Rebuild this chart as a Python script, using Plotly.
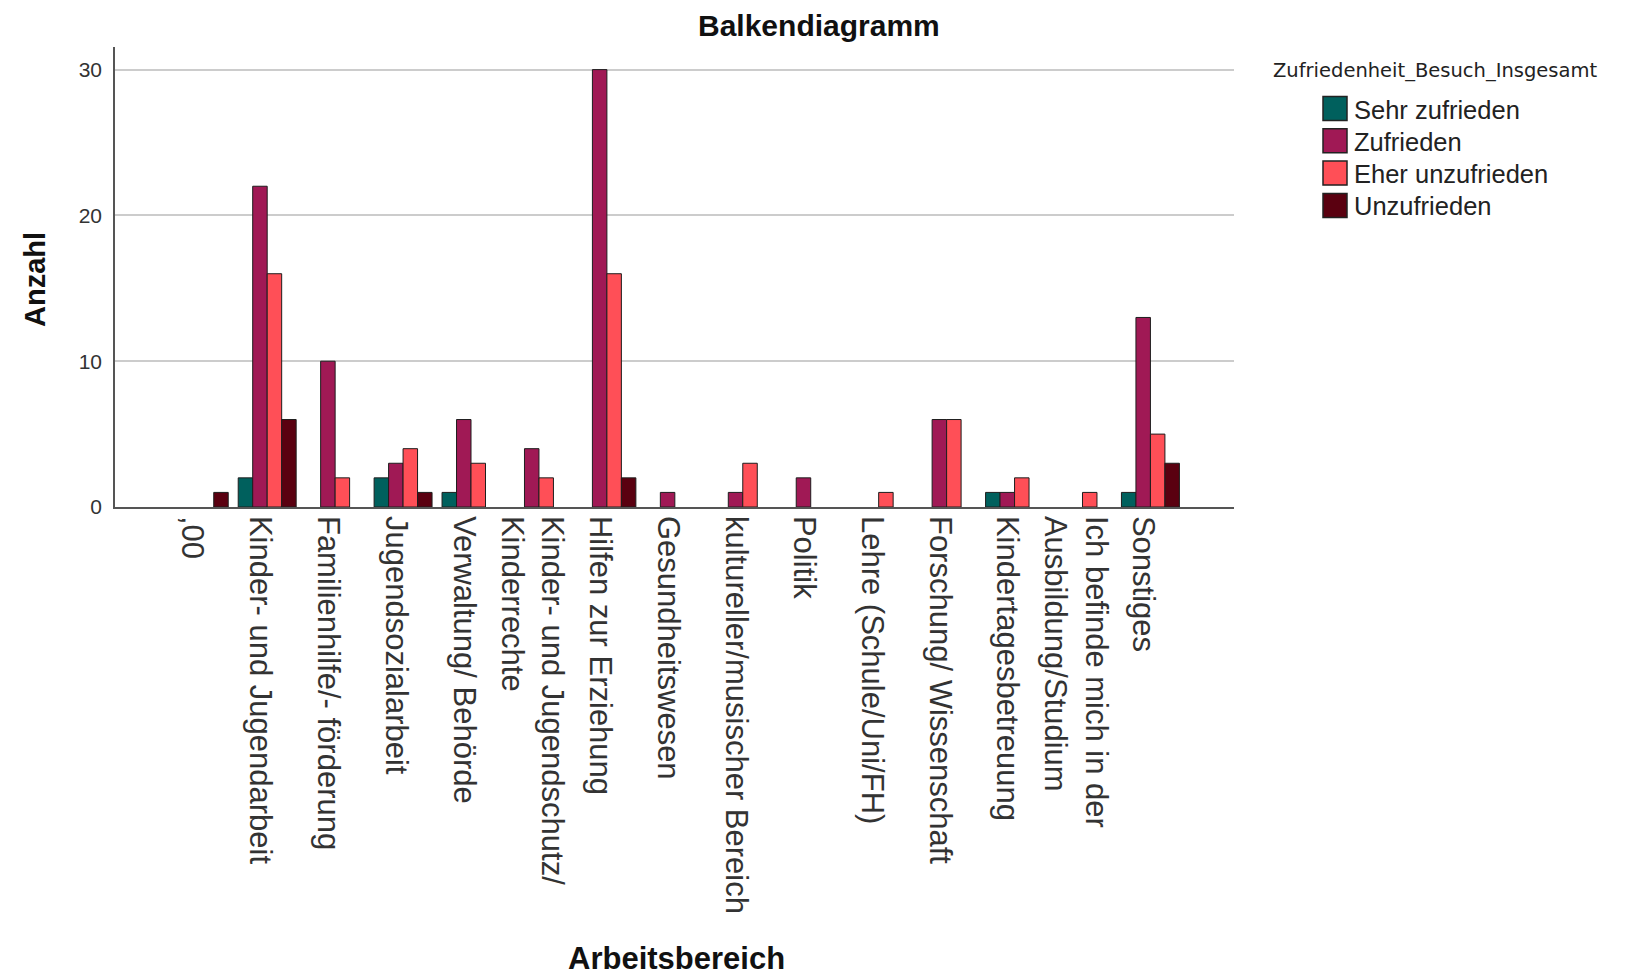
import plotly.graph_objects as go

# Arbeitsbereich categories (x axis)
kategorien = [
    ",00",
    "Kinder- und Jugendarbeit",
    "Familienhilfe/- förderung",
    "Jugendsozialarbeit",
    "Verwaltung/ Behörde",
    "Kinder- und Jugendschutz/<br>Kinderrechte",
    "Hilfen zur Erziehung",
    "Gesundheitswesen",
    "kultureller/musischer Bereich",
    "Politik",
    "Lehre (Schule/Uni/FH)",
    "Forschung/ Wissenschaft",
    "Kindertagesbetreuung",
    "Ich befinde mich in der<br>Ausbildung/Studium",
    "Sonstiges",
]

# counts per Zufriedenheit_Besuch_Insgesamt group (0 = no bar)
sehr_zufrieden   = [0, 2, 0, 2, 1, 0, 0, 0, 0, 0, 0, 0, 1, 0, 1]
zufrieden        = [0, 22, 10, 3, 6, 4, 30, 1, 1, 2, 0, 6, 1, 0, 13]
eher_unzufrieden = [0, 16, 2, 4, 3, 2, 16, 0, 3, 0, 1, 6, 2, 1, 5]
unzufrieden      = [1, 6, 0, 1, 0, 0, 2, 0, 0, 0, 0, 0, 0, 0, 3]

gruppen = ["Sehr zufrieden", "Zufrieden", "Eher unzufrieden", "Unzufrieden"]
werte = [sehr_zufrieden, zufrieden, eher_unzufrieden, unzufrieden]
farben = ["#00605D", "#A01955", "#FF4F57", "#5A0010"]

# page is 1625x975, the html body adds an 8px margin
OFF = 8
W, H = 1625 - OFF, 975 - OFF
# plot area in page pixels: x 115..1234, y 47..507
L, R, T, B = 115 - OFF, 1625 - 1234, 47 - OFF, 975 - 507
pw, ph = W - L - R, H - T - B


def px(x):
    return (x - OFF - L) / pw


def py(y):
    return (H - B - (y - OFF)) / ph


fig = go.Figure()
for name, vals, col in zip(gruppen, werte, farben):
    fig.add_trace(go.Bar(
        x=kategorien,
        y=[v if v else None for v in vals],
        name=name,
        marker=dict(color=col, line=dict(color="#1e1e1e", width=1)),
        showlegend=False,
    ))

annotations = [
    dict(text="<b>Balkendiagramm</b>", x=px(819), y=py(25), xref="paper", yref="paper",
         showarrow=False, xanchor="center", yanchor="middle", borderpad=0,
         font=dict(family="Liberation Sans", size=30, color="#111")),
    dict(text="<b>Arbeitsbereich</b>", x=px(676), y=py(958), xref="paper", yref="paper",
         showarrow=False, xanchor="center", yanchor="middle",
         font=dict(family="Liberation Sans", size=31, color="#111")),
    dict(text="<b>Anzahl</b>", x=px(35), y=py(280), xref="paper", yref="paper",
         showarrow=False, xanchor="center", yanchor="middle", textangle=-90,
         font=dict(family="Liberation Sans", size=29, color="#111")),
    dict(text="Zufriedenheit_Besuch_Insgesamt", x=px(1271), y=py(70), xref="paper", yref="paper",
         showarrow=False, xanchor="left", yanchor="middle",
         font=dict(family="DejaVu Sans", size=19.5, color="#222")),
]
shapes = []
for i, (name, col) in enumerate(zip(gruppen, farben)):
    cy = 108.5 + 32.3 * i
    shapes.append(dict(type="rect", xref="paper", yref="paper",
                       x0=px(1323), x1=px(1347), y0=py(cy - 12), y1=py(cy + 12),
                       fillcolor=col, line=dict(color="#222", width=1.5)))
    annotations.append(dict(text=name, x=px(1352), y=py(cy + 1), xref="paper", yref="paper",
                            showarrow=False, xanchor="left", yanchor="middle",
                            font=dict(family="Liberation Sans", size=25.5, color="#222")))

fig.update_layout(
    width=W, height=H,
    margin=dict(l=L, r=R, t=T, b=B),
    paper_bgcolor="white", plot_bgcolor="white",
    barmode="group", bargap=0.147, bargroupgap=0,
    annotations=annotations,
    shapes=shapes,
    font=dict(family="Liberation Sans", color="#333"),
)
fig.update_xaxes(
    type="category", range=[-1.24, 15.23],
    tickangle=90, tickfont=dict(family="Liberation Sans", size=31, color="#333"),
    showline=True, linecolor="#555", linewidth=1.5,
    showgrid=False, ticks="", ticklabelstandoff=1, ticklabelshift=-7,
)
fig.update_yaxes(
    range=[0, 31.55], tickvals=[0, 10, 20, 30],
    tickfont=dict(family="Liberation Sans", size=21, color="#333"),
    showline=True, linecolor="#555", linewidth=1.5,
    showgrid=True, gridcolor="#cccccc", gridwidth=2,
    zeroline=False, ticks="", ticklabelstandoff=7,
)

fig.write_html("out.html")
